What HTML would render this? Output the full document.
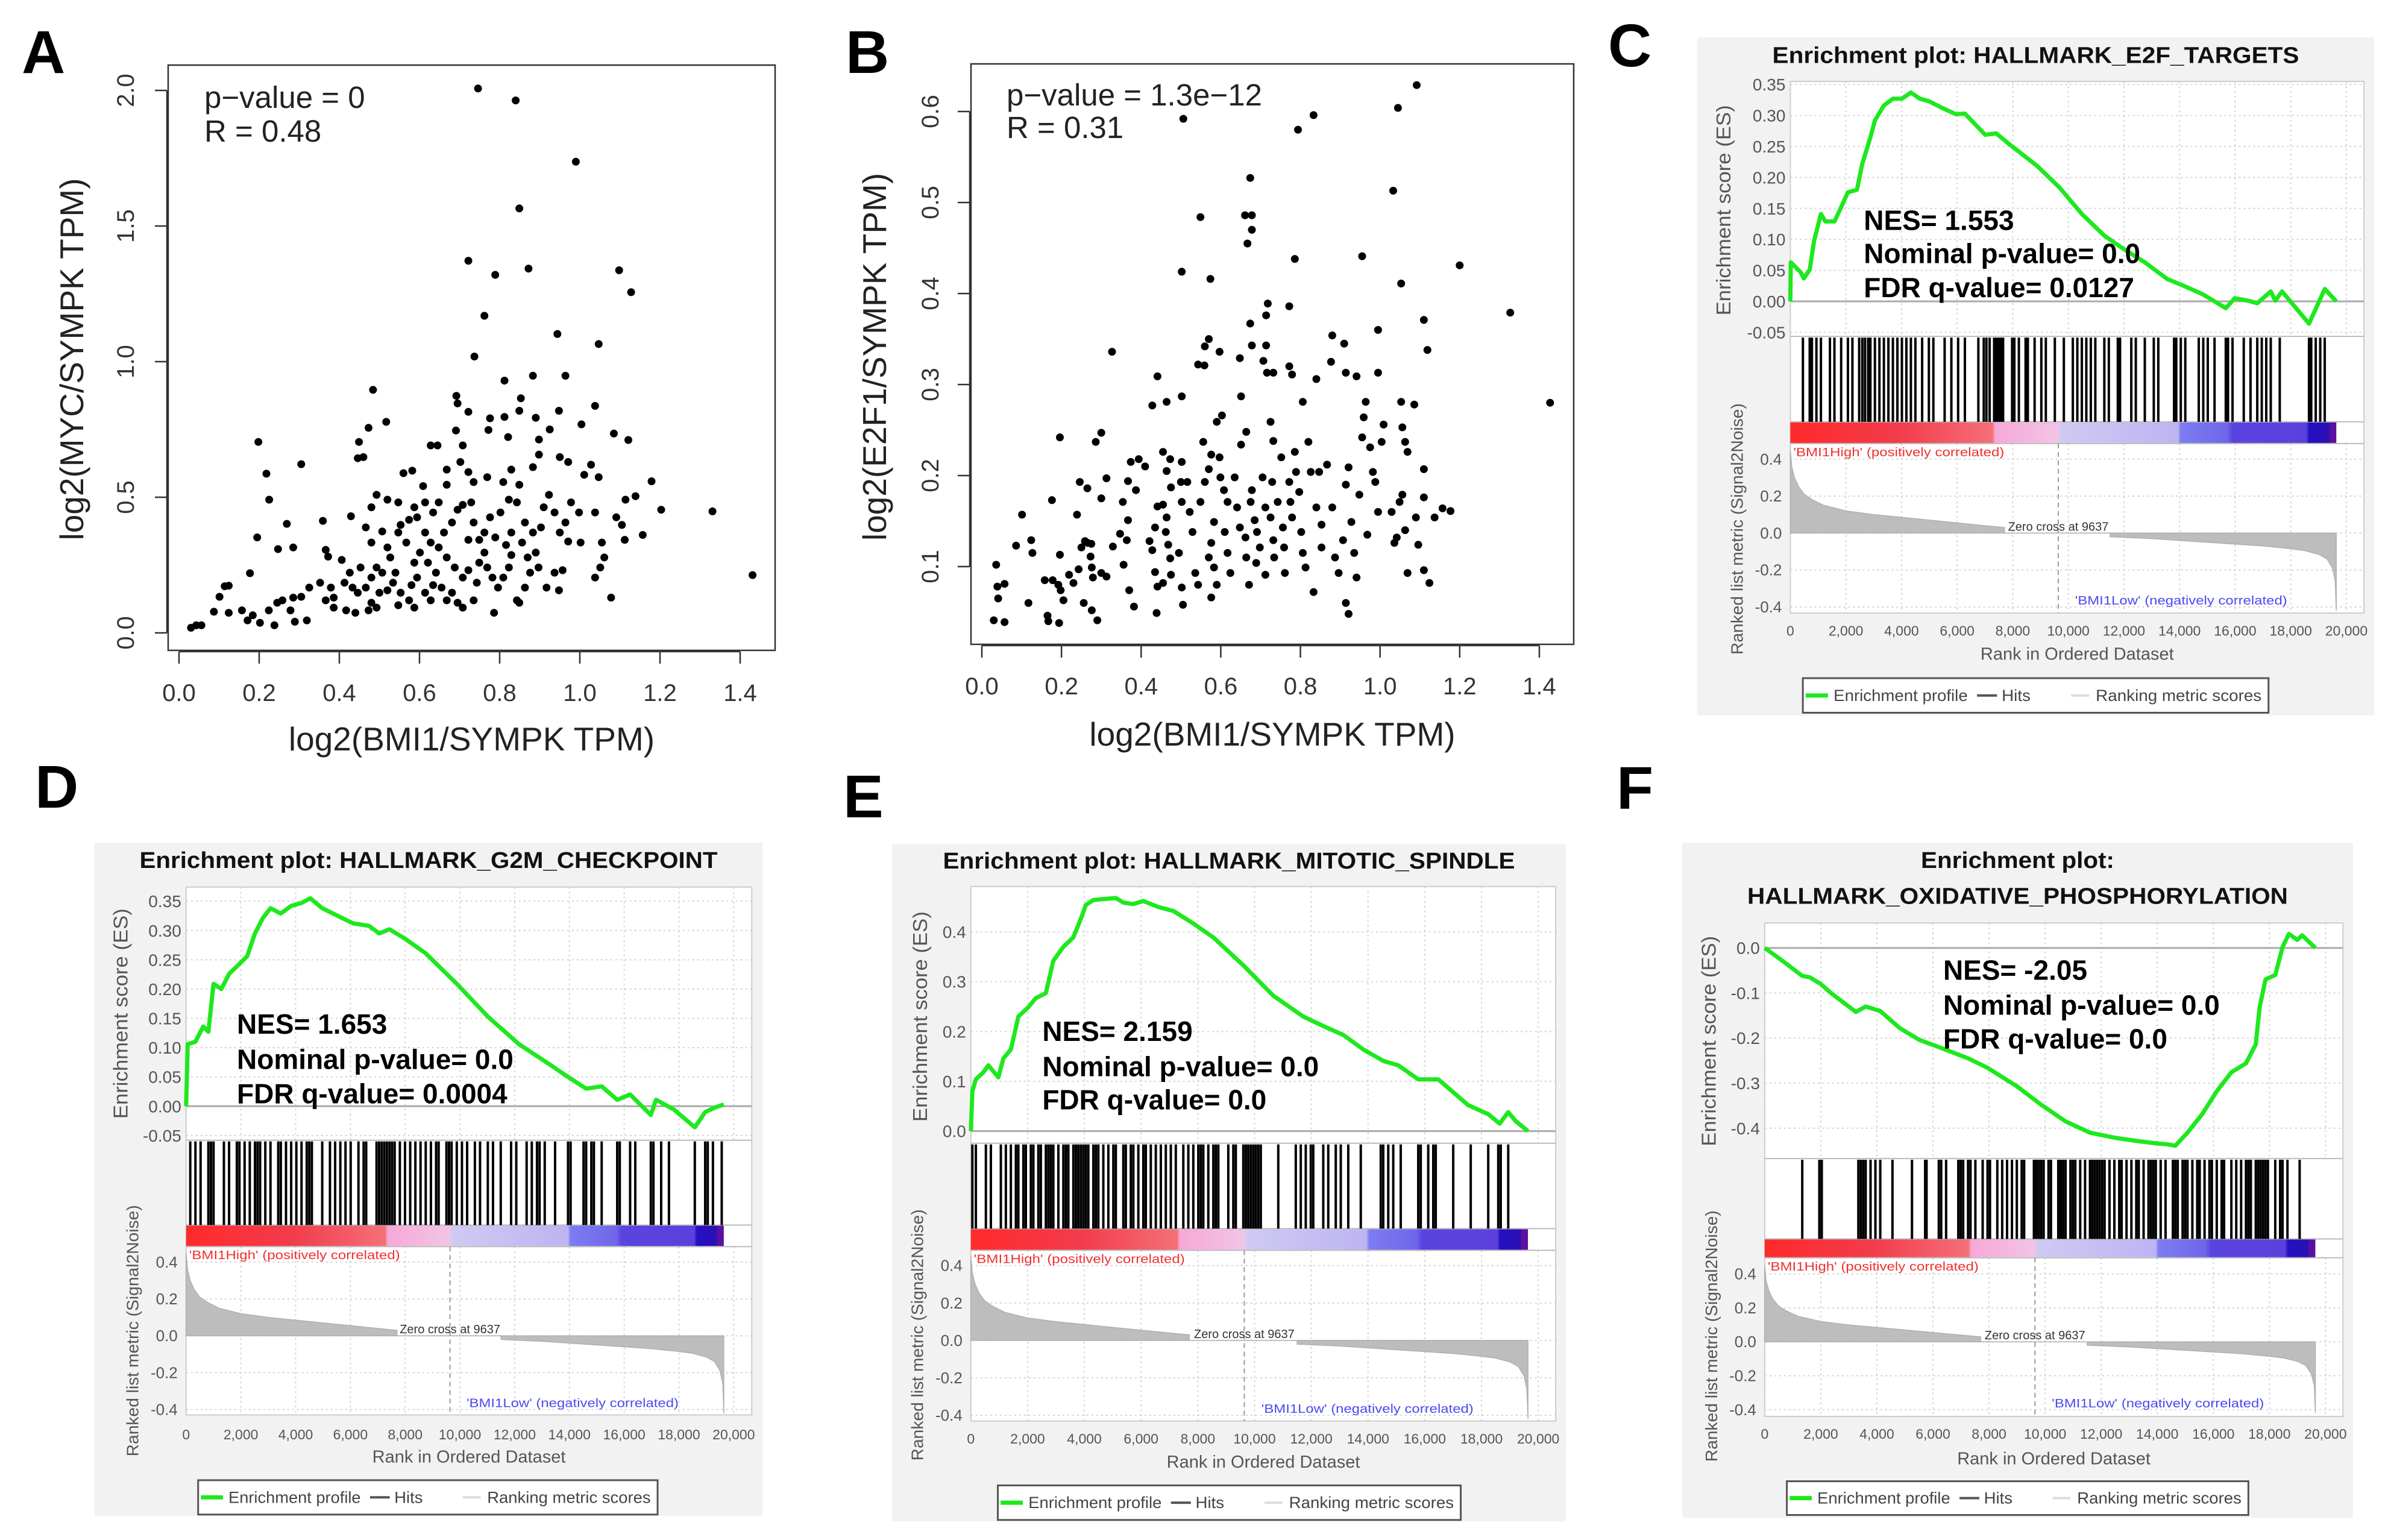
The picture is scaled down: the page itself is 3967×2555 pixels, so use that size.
<!DOCTYPE html>
<html><head><meta charset="utf-8"><style>
html,body{margin:0;padding:0;background:#fff;}
svg{display:block;font-family:"Liberation Sans",Arial,sans-serif;}
</style></head><body>
<svg id="fig" xmlns="http://www.w3.org/2000/svg" width="3967" height="2555" viewBox="0 0 3967 2555">
<rect x="0" y="0" width="3967" height="2555" fill="#fff"/>
</svg>
<script>
// ---------- Scatter A data ----------
const aX=[0.746,0.840,0.99,0.849,0.722,0.789,0.872,1.098,1.128,0.762,0.944,1.047,0.737,0.812,0.883,0.964,0.484,0.517,0.473,0.198,0.305,0.218,0.225,0.269,0.195,1.431,1.331,1.203,1.179,1.139,1.157,1.078,1.085,1.121,1.038,1.004,0.853,0.692,0.695,0.722,0.776,0.812,0.849,0.890,0.948,0.925,0.898,0.772,0.691,0.628,0.645,0.708,0.821,0.449,0.446,0.460,0.560,0.582,0.668,0.609,0.429,0.359,0.366,0.372,0.406,0.285,0.247,0.177,0.114,0.124,0.101,0.087,0.124,0.030,0.043,0.056,0.157,0.171,0.184,0.202,0.238,0.224,0.245,0.258,0.285,0.278,0.289,0.319,0.325,0.305,0.352,0.379,0.366,0.386,0.417,0.44,0.446,0.466,0.48,0.493,0.493,0.52,0.534,0.54,0.553,0.574,0.58,0.594,0.587,0.601,0.567,0.547,0.553,0.574,0.594,0.614,0.628,0.621,0.641,0.655,0.628,0.668,0.695,0.708,0.735,0.743,0.708,0.688,0.668,0.648,0.661,0.681,0.695,0.708,0.729,0.735,0.722,0.749,0.762,0.769,0.782,0.796,0.809,0.823,0.829,0.816,0.789,0.776,0.802,0.823,0.843,0.849,0.863,0.856,0.870,0.876,0.863,0.843,0.849,0.786,0.890,0.903,0.910,0.923,0.937,0.950,0.937,0.917,0.948,0.957,0.971,0.964,0.978,0.998,1.002,1.011,1.028,1.047,1.038,1.055,1.061,1.051,1.038,1.091,1.105,1.112,1.114,0.971,0.950,0.898,0.883,0.829,0.809,0.769,0.735,0.722,0.702,0.668,0.648,0.634,0.614,0.587,0.547,0.520,0.493,0.480,0.466,0.480,0.507,0.520,0.527,0.507,0.480,0.453,0.426,0.433,0.413,0.386,0.473,0.500,0.547,0.587,0.614,0.634,0.681,0.722,0.749,0.762,0.829,0.883,0.897];
const aY=[2.007,1.963,1.737,1.565,1.372,1.32,1.343,1.337,1.256,1.169,1.102,1.065,1.019,0.930,0.948,0.948,0.896,0.778,0.756,0.704,0.622,0.587,0.491,0.402,0.352,0.213,0.448,0.454,0.559,0.504,0.361,0.130,0.735,0.711,0.837,0.769,0.865,0.874,0.846,0.815,0.791,0.796,0.819,0.793,0.819,0.750,0.713,0.748,0.746,0.691,0.691,0.691,0.722,0.704,0.644,0.648,0.589,0.598,0.602,0.541,0.430,0.413,0.306,0.281,0.269,0.315,0.309,0.220,0.172,0.174,0.133,0.078,0.074,0.019,0.028,0.028,0.083,0.046,0.065,0.037,0.028,0.083,0.111,0.120,0.130,0.083,0.041,0.046,0.167,0.133,0.185,0.167,0.120,0.093,0.083,0.074,0.148,0.167,0.111,0.093,0.241,0.157,0.185,0.222,0.148,0.120,0.176,0.204,0.259,0.296,0.333,0.370,0.398,0.417,0.426,0.370,0.333,0.259,0.222,0.167,0.120,0.120,0.111,0.093,0.120,0.185,0.204,0.241,0.278,0.315,0.370,0.407,0.454,0.472,0.481,0.407,0.343,0.343,0.296,0.241,0.204,0.167,0.204,0.241,0.287,0.324,0.352,0.426,0.444,0.491,0.481,0.546,0.407,0.333,0.278,0.222,0.167,0.120,0.111,0.074,0.296,0.389,0.463,0.509,0.444,0.370,0.222,0.167,0.157,0.231,0.337,0.407,0.481,0.444,0.333,0.583,0.620,0.574,0.444,0.333,0.278,0.241,0.204,0.426,0.398,0.343,0.491,0.630,0.648,0.657,0.611,0.602,0.556,0.574,0.556,0.593,0.630,0.546,0.481,0.444,0.481,0.463,0.481,0.491,0.509,0.463,0.389,0.333,0.374,0.315,0.278,0.222,0.204,0.241,0.222,0.167,0.185,0.130,0.083,0.148,0.102,0.093,0.148,0.176,0.148,0.231,0.259,0.370,0.370,0.370,0.241];
// ---------- Scatter B data ----------
const bX=[1.092,1.045,0.833,0.506,0.794,1.033,0.674,0.661,0.678,0.678,0.667,0.549,0.502,0.574,0.786,0.955,1.200,1.053,1.327,1.427,0.772,0.718,0.714,0.674,1.110,1.119,0.995,0.327,0.880,0.910,0.570,0.560,0.678,0.714,0.597,0.543,0.559,0.648,0.707,0.716,0.732,0.772,0.779,0.840,0.877,0.914,0.941,0.995,0.441,0.502,0.428,0.464,0.286,0.300,0.196,0.313,0.300,0.246,0.265,0.176,0.101,0.239,0.086,0.124,0.127,0.036,0.039,0.057,0.041,0.030,0.057,0.117,0.158,0.165,0.167,0.178,0.192,0.198,0.196,0.194,0.205,0.219,0.230,0.243,0.250,0.259,0.266,0.275,0.256,0.276,0.290,0.273,0.276,0.279,0.300,0.313,0.329,0.347,0.354,0.367,0.374,0.387,0.394,0.410,0.367,0.364,0.356,0.370,0.382,0.421,0.435,0.428,0.435,0.441,0.439,0.441,0.455,0.464,0.462,0.468,0.473,0.475,0.455,0.455,0.473,0.464,0.475,0.502,0.500,0.502,0.516,0.495,0.502,0.505,0.522,0.529,0.536,0.543,0.549,0.560,0.556,0.576,0.570,0.583,0.576,0.570,0.583,0.576,0.590,0.597,0.599,0.608,0.590,0.603,0.617,0.610,0.617,0.624,0.635,0.641,0.648,0.651,0.664,0.651,0.662,0.664,0.671,0.675,0.678,0.685,0.691,0.689,0.698,0.705,0.712,0.712,0.725,0.732,0.734,0.725,0.732,0.729,0.743,0.752,0.756,0.759,0.761,0.772,0.775,0.779,0.786,0.789,0.797,0.802,0.806,0.813,0.806,0.820,0.826,0.833,0.840,0.847,0.853,0.853,0.867,0.880,0.887,0.896,0.907,0.914,0.921,0.914,0.921,0.928,0.935,0.941,0.948,0.955,0.959,0.964,0.968,0.975,0.982,0.988,1.004,1.009,0.995,1.029,1.036,1.042,1.049,1.056,1.053,1.056,1.063,1.069,1.063,1.069,1.090,1.096,1.086,1.110,1.110,1.110,1.124,1.137,1.157,1.177];
const bY=[0.629,0.604,0.596,0.592,0.580,0.513,0.527,0.486,0.486,0.470,0.455,0.484,0.424,0.416,0.438,0.441,0.431,0.411,0.379,0.280,0.386,0.389,0.376,0.367,0.371,0.338,0.360,0.336,0.354,0.345,0.350,0.342,0.343,0.343,0.336,0.322,0.321,0.329,0.326,0.313,0.313,0.320,0.311,0.306,0.325,0.313,0.309,0.313,0.309,0.287,0.277,0.281,0.237,0.247,0.242,0.197,0.175,0.193,0.186,0.173,0.157,0.157,0.123,0.129,0.115,0.102,0.078,0.081,0.065,0.041,0.039,0.060,0.085,0.046,0.040,0.085,0.080,0.074,0.113,0.038,0.063,0.091,0.082,0.097,0.121,0.128,0.126,0.125,0.060,0.052,0.041,0.111,0.099,0.088,0.093,0.089,0.122,0.136,0.171,0.194,0.215,0.184,0.218,0.210,0.151,0.129,0.102,0.074,0.056,0.128,0.143,0.118,0.094,0.078,0.049,0.166,0.168,0.154,0.138,0.124,0.109,0.091,0.082,0.226,0.218,0.205,0.187,0.215,0.193,0.171,0.193,0.115,0.077,0.058,0.160,0.138,0.093,0.080,0.171,0.193,0.237,0.223,0.207,0.149,0.126,0.110,0.099,0.066,0.080,0.220,0.198,0.184,0.259,0.266,0.171,0.138,0.115,0.093,0.198,0.165,0.143,0.234,0.248,0.287,0.132,0.110,0.080,0.171,0.184,0.151,0.138,0.104,0.121,0.198,0.165,0.091,0.154,0.129,0.110,0.259,0.238,0.193,0.171,0.220,0.143,0.121,0.093,0.193,0.171,0.154,0.226,0.204,0.182,0.138,0.115,0.099,0.281,0.237,0.204,0.072,0.165,0.204,0.146,0.121,0.212,0.165,0.110,0.093,0.129,0.060,0.048,0.190,0.209,0.149,0.115,0.088,0.179,0.242,0.264,0.281,0.135,0.231,0.204,0.193,0.237,0.256,0.160,0.160,0.126,0.132,0.171,0.179,0.281,0.253,0.237,0.226,0.140,0.093,0.154,0.124,0.278,0.207,0.176,0.096,0.082,0.154,0.164,0.161];
const scatterXTicks=[0,0.2,0.4,0.6,0.8,1.0,1.2,1.4];
const scatterXTickLabels=['0.0','0.2','0.4','0.6','0.8','1.0','1.2','1.4'];
const aYTicks=[0,0.5,1.0,1.5,2.0];
const aYTickLabels=['0.0','0.5','1.0','1.5','2.0'];
const bYTicks=[0.1,0.2,0.3,0.4,0.5,0.6];
const bYTickLabels=['0.1','0.2','0.3','0.4','0.5','0.6'];

// ---------- GSEA data ----------
const rankTicks=[0,2000,4000,6000,8000,10000,12000,14000,16000,18000,20000];
const rankTickLabels=['0','2,000','4,000','6,000','8,000','10,000','12,000','14,000','16,000','18,000','20,000'];
const metricTicks=[0.4,0.2,0,-0.2,-0.4];
const metricTickLabels=['0.4','0.2','0.0','-0.2','-0.4'];
const metricRanks=[0,50,150,300,500,800,1200,2000,3000,4000,5000,6000,7000,7700,7701,11500,11501,13000,14000,15000,16000,17000,18000,18500,19000,19300,19500,19600,19637];
const metricVals=[0.45,0.36,0.30,0.25,0.21,0.18,0.15,0.12,0.10,0.085,0.07,0.055,0.04,0.03,0,0,-0.02,-0.03,-0.04,-0.05,-0.06,-0.07,-0.085,-0.095,-0.115,-0.14,-0.19,-0.26,-0.42];
const esTicksCD=[0.35,0.30,0.25,0.20,0.15,0.10,0.05,0.00,-0.05];
const esTickLabelsCD=['0.35','0.30','0.25','0.20','0.15','0.10','0.05','0.00','-0.05'];
const esTicksE=[0.4,0.3,0.2,0.1,0.0];
const esTickLabelsE=['0.4','0.3','0.2','0.1','0.0'];
const esTicksF=[0.0,-0.1,-0.2,-0.3,-0.4];
const esTickLabelsF=['0.0','-0.1','-0.2','-0.3','-0.4'];

const cEsRanks=[0,16,372,485,696,857,1100,1262,1586,1828,2071,2395,2589,2880,3042,3365,3689,4013,4336,4660,4983,5469,5954,6278,6601,7006,7410,7896,8867,9676,10485,11294,11941,12750,13559,14207,14854,15662,15986,16471,16795,17281,17443,17685,18656,19222,19637];
const cEsVals=[0,0.063,0.047,0.037,0.051,0.098,0.141,0.129,0.129,0.152,0.176,0.18,0.222,0.265,0.292,0.316,0.327,0.327,0.337,0.327,0.323,0.312,0.302,0.303,0.288,0.269,0.271,0.253,0.219,0.184,0.141,0.106,0.086,0.063,0.036,0.024,0.011,-0.011,0.005,0.001,-0.003,0.016,0.001,0.016,-0.036,0.020,0];
const cHits=[453,696,777,938,1100,1424,1586,1828,2071,2233,2476,2589,2686,2799,2880,3042,3204,3365,3527,3689,3851,4013,4174,4336,4498,4741,4983,5145,5550,5792,6035,6278,6763,6957,7054,7168,7330,7410,7491,7572,7653,7977,8058,8220,8462,8543,8786,9028,9190,9514,9838,10161,10323,10485,10646,10808,10970,11294,11456,11779,11860,12264,12426,12750,13073,13235,13802,13882,14044,14206,14691,14853,15015,15258,15662,15743,15905,16309,16552,16795,16957,17118,17280,17604,18656,18736,18898,19060,19222];

const dEsRanks=[0,57,340,624,813,1002,1285,1569,1947,2230,2514,2797,3081,3459,3837,4215,4536,4971,5538,6105,6672,7050,7428,7995,8751,9885,11019,12153,13287,14043,14610,15177,15744,16216,16972,17161,17823,18579,18957,19335,19637];
const dEsVals=[0,0.106,0.110,0.136,0.127,0.209,0.2,0.226,0.243,0.256,0.295,0.321,0.338,0.329,0.342,0.347,0.355,0.338,0.325,0.312,0.308,0.295,0.302,0.286,0.261,0.209,0.153,0.106,0.071,0.047,0.030,0.034,0.011,0.020,-0.015,0.011,-0.006,-0.036,-0.010,-0.002,0.003];
const dHits=[151,340,529,813,907,1002,1380,1569,1852,1947,2136,2325,2514,2608,2703,2892,3081,3364,3459,3648,3837,4026,4215,4404,4498,4593,4971,5254,5443,5632,5821,6010,6294,6483,6577,6955,7050,7144,7239,7333,7428,7522,7617,7806,7995,8184,8373,8562,8751,8940,9129,9223,9507,9601,9696,9885,10074,10263,10546,10735,11019,11208,11491,11869,12058,12436,12625,12814,12909,13098,13476,13948,14043,14515,14610,14799,14893,15177,15744,15838,16216,16405,16972,17067,17350,17634,18579,18957,19051,19240,19562];

const eEsRanks=[0,53,176,440,617,969,1146,1410,1674,2026,2291,2643,2907,3260,3612,3876,4052,4317,4669,5110,5374,5727,6079,6607,7136,7841,8546,9603,10660,11717,12422,13127,13832,14537,15065,15770,16475,17532,18237,18642,18941,19206,19637];
const eEsVals=[0,0.08,0.104,0.118,0.132,0.108,0.146,0.164,0.23,0.249,0.267,0.277,0.342,0.37,0.389,0.426,0.454,0.464,0.466,0.468,0.459,0.456,0.462,0.45,0.442,0.417,0.389,0.333,0.272,0.23,0.211,0.193,0.164,0.141,0.132,0.104,0.104,0.052,0.034,0.015,0.038,0.02,0];
const eHits=[53,176,529,705,1057,1233,1410,1586,1674,1850,1938,2114,2203,2379,2467,2643,2731,2819,2907,3084,3260,3348,3436,3612,3700,3788,3876,3965,4053,4141,4317,4405,4493,4669,4846,5022,5110,5374,5462,5638,5727,5903,6079,6167,6343,6519,6696,6872,7048,7224,7489,7665,7841,8017,8105,8193,8370,8546,8634,8722,9074,9251,9339,9603,9691,9779,9867,9955,10043,10132,10220,10836,11453,11629,11805,11982,12070,12422,12598,12863,13039,13303,13744,14448,14537,14713,14889,15153,15770,15858,16122,16299,16387,17003,17620,18237,18590,18678,18942];

const fEsRanks=[0,643,1339,1600,2000,2382,3252,3600,4121,4817,5513,6208,7252,7947,8991,9860,10730,11599,12469,13338,13860,14381,14642,15077,15599,16120,16642,17163,17511,17650,17859,18207,18468,18694,18990,19164,19637];
const fEsVals=[0,-0.029,-0.062,-0.065,-0.08,-0.101,-0.142,-0.13,-0.14,-0.178,-0.204,-0.22,-0.245,-0.266,-0.307,-0.348,-0.385,-0.41,-0.421,-0.429,-0.433,-0.436,-0.439,-0.41,-0.369,-0.318,-0.276,-0.256,-0.214,-0.132,-0.07,-0.06,0.002,0.031,0.018,0.028,0];
const fHits=[1339,1948,2035,3339,3426,3513,3600,3774,3948,4121,4556,5252,5721,5773,6208,6295,6469,6904,6991,7078,7252,7339,7513,7773,7947,8034,8295,8469,8643,8817,8991,9165,9252,9600,9686,9773,9860,9947,10121,10208,10469,10556,10643,10730,10903,10990,11077,11251,11425,11599,11686,11773,11860,11947,12034,12121,12295,12469,12643,12729,12903,13077,13251,13338,13512,13686,13773,13860,13947,14121,14295,14555,14642,14729,14903,14990,15077,15251,15425,15512,15686,15860,15947,16121,16295,16382,16642,16816,16990,17163,17250,17337,17511,17598,17685,17772,17859,17946,18207,18381,18468,18642,19077];

const NS='http://www.w3.org/2000/svg';
const svg=document.getElementById('fig');
function mk(tag,attrs,parent){const e=document.createElementNS(NS,tag);for(const k in attrs)e.setAttribute(k,attrs[k]);(parent||svg).appendChild(e);return e;}
function tx(str,attrs,parent){const e=mk('text',attrs,parent);e.textContent=str;return e;}

// ---------- panel letters ----------
const letters=[['A',36,121],['B',1403,121],['C',2668,110],['D',58,1340],['E',1399,1356],['F',2682,1342]];
letters.forEach(l=>{
  const t=tx(l[0],{x:l[1],y:l[2],'font-size':100,'font-weight':'bold',fill:'#000'});
  
  
});

// ---------- scatter ----------
function scatter(c){
  const g=mk('g',{});
  
  
  const sx=v=>c.x0px+(v-0)*c.xPerUnit;
  const sy=v=>c.yRefPx-(v-c.yRef)*c.yPerUnit;
  const box=mk('rect',{x:c.box[0],y:c.box[1],width:c.box[2]-c.box[0],height:c.box[3]-c.box[1],fill:'none',stroke:'#333','stroke-width':2.5},g);
  
  
  const xa=mk('g',{},g);
  
  
  const by=c.box[3]+2;
  mk('line',{x1:sx(scatterXTicks[0]),x2:sx(scatterXTicks[scatterXTicks.length-1]),y1:by,y2:by,stroke:'#333','stroke-width':2.5},xa);
  scatterXTicks.forEach((v,i)=>{
    mk('line',{x1:sx(v),x2:sx(v),y1:by,y2:by+20,stroke:'#333','stroke-width':2.5},xa);
    const t=tx(scatterXTickLabels[i],{x:sx(v),y:c.xLabY,'text-anchor':'middle','font-size':40,fill:'#333'},xa);
    
    
  });
  const ya=mk('g',{},g);
  
  
  const bx=c.box[0]-2;
  mk('line',{x1:bx,x2:bx,y1:sy(c.yTicks[0]),y2:sy(c.yTicks[c.yTicks.length-1]),stroke:'#333','stroke-width':2.5},ya);
  c.yTicks.forEach((v,i)=>{
    mk('line',{x1:bx,x2:bx-20,y1:sy(v),y2:sy(v),stroke:'#333','stroke-width':2.5},ya);
    const t=tx(c.yTickLabels[i],{transform:`translate(${c.yLabX},${sy(v)}) rotate(-90)`,'text-anchor':'middle','font-size':40,fill:'#333'},ya);
    
    
  });
  const xt=tx('log2(BMI1/SYMPK TPM)',{x:(c.box[0]+c.box[2])/2,y:c.xTitleY,'text-anchor':'middle','font-size':55,fill:'#222'},g);
  
  
  const yt=tx(c.yTitle,{transform:`translate(${c.yTitleX},${c.yTitleCY}) rotate(-90)`,'text-anchor':'middle','font-size':55,fill:'#222'},g);
  
  
  const p=tx(c.pText,{x:c.statX,y:c.statY1,'font-size':51,fill:'#222'},g);
  
  
  const r=tx(c.rText,{x:c.statX,y:c.statY2,'font-size':51,fill:'#222'},g);
  
  
  const pts=mk('g',{fill:'#000'},g);
  
  
  const n=Math.min(c.xs.length,c.ys.length);
  for(let i=0;i<n;i++){
    const d=mk('circle',{cx:sx(c.xs[i]).toFixed(1),cy:sy(c.ys[i]).toFixed(1),r:6.5},pts);
    
    
  }
}
scatter({name:'scatter-a-myc',box:[279,108,1286,1079],x0px:297,xPerUnit:665,yRef:0,yRefPx:1050,yPerUnit:450,
  yTicks:aYTicks,yTickLabels:aYTickLabels,xLabY:1163,yLabX:222,xTitleY:1245,yTitle:'log2(MYC/SYMPK TPM)',yTitleX:138,yTitleCY:596,
  pText:'p\u2212value = 0',rText:'R = 0.48',statX:339,statY1:179,statY2:235,xs:aX,ys:aY});
scatter({name:'scatter-b-e2f1',box:[1611,106,2611,1069],x0px:1629,xPerUnit:660.7,yRef:0.1,yRefPx:940,yPerUnit:1510,
  yTicks:bYTicks,yTickLabels:bYTickLabels,xLabY:1152,yLabX:1557,xTitleY:1237,yTitle:'log2(E2F1/SYMPK TPM)',yTitleX:1470,yTitleCY:592,
  pText:'p\u2212value = 1.3e\u221212',rText:'R = 0.31',statX:1670,statY1:175,statY2:229,xs:bX,ys:bY});

// ---------- GSEA ----------
function gsea(c){
  const g=mk('g',{});
  
  
  const bg=mk('rect',{x:c.x0,y:c.y0,width:c.w,height:c.h,fill:'#f2f2f2'},g);
  
  
  const xr=r=>c.plotL+r/20000*(c.x20k-c.plotL);
  const esY=v=>c.esY1+(v-c.esV1)*(c.esY2-c.esY1)/(c.esV2-c.esV1);
  const rkY=v=>c.r4Y+(v-0.4)*(c.rm4Y-c.r4Y)/(-0.8);
  const endR=19637;
  c.titles.forEach((t,i)=>{
    const e=tx(t,{x:c.x0+c.w/2,y:c.titleY[i],'text-anchor':'middle','font-size':38,'font-weight':'bold',fill:'#111',textLength:c.titleW[i],lengthAdjust:'spacingAndGlyphs'},g);
    
    
  });
  const pa=mk('rect',{x:c.plotL,y:c.esTop,width:c.plotR-c.plotL,height:c.rankBot-c.esTop,fill:'#fff',stroke:'#ccc','stroke-width':2},g);
  
  
  const grid=mk('g',{stroke:'#d4d4d4','stroke-width':2,'stroke-dasharray':'3,5'},g);
  
  
  rankTicks.forEach(r=>{
    mk('line',{x1:xr(r),x2:xr(r),y1:c.esTop,y2:c.esBot},grid);
    mk('line',{x1:xr(r),x2:xr(r),y1:c.colBot,y2:c.rankBot},grid);
  });
  c.esTicks.forEach(v=>mk('line',{x1:c.plotL,x2:c.plotR,y1:esY(v),y2:esY(v)},grid));
  metricTicks.forEach(v=>mk('line',{x1:c.plotL,x2:c.plotR,y1:rkY(v),y2:rkY(v)},grid));
  [c.esBot,c.hitsBot,c.colBot].forEach(y=>{
    const s=mk('line',{x1:c.plotL,x2:c.plotR,y1:y,y2:y,stroke:'#bbb','stroke-width':2},g);
    
    
  });
  const z=mk('line',{x1:c.plotL,x2:c.plotR,y1:esY(0),y2:esY(0),stroke:'#aaa','stroke-width':3},g);
  
  
  c.esTicks.forEach((v,i)=>{
    const t=tx(c.esTickLabels[i],{x:c.plotL-8,y:esY(v)+10,'text-anchor':'end','font-size':28,fill:'#555'},g);
    
    
  });
  metricTicks.forEach((v,i)=>{
    const t=tx(metricTickLabels[i],{x:c.plotL-14,y:rkY(v)+9,'text-anchor':'end','font-size':26,fill:'#555'},g);
    
    
  });
  rankTicks.forEach((r,i)=>{
    const t=tx(rankTickLabels[i],{x:xr(r),y:c.tickY,'text-anchor':'middle','font-size':23,fill:'#555'},g);
    
    
  });
  const xt=tx('Rank in Ordered Dataset',{x:(c.plotL+c.plotR)/2,y:c.xTitleY,'text-anchor':'middle','font-size':29,fill:'#555'},g);
  
  
  const yt1=tx('Enrichment score (ES)',{transform:`translate(${c.esLabX},${c.esLabCY}) rotate(-90)`,'text-anchor':'middle','font-size':33,fill:'#555',textLength:349,lengthAdjust:'spacingAndGlyphs'},g);
  
  
  const yt2=tx('Ranked list metric (Signal2Noise)',{transform:`translate(${c.rkLabX},${c.rkLabCY}) rotate(-90)`,'text-anchor':'middle','font-size':28,fill:'#555',textLength:417,lengthAdjust:'spacingAndGlyphs'},g);
  
  
  const hg=mk('g',{stroke:'#000','stroke-width':4},g);
  
  
  c.hits.forEach(r=>{
    const l=mk('line',{x1:xr(r),x2:xr(r),y1:c.esBot+2,y2:c.hitsBot},hg);
    
    
  });
  const gid='grad'+c.name;
  const defs=mk('defs',{},g);
  const lg=mk('linearGradient',{id:gid,x1:0,x2:1,y1:0,y2:0},defs);
  [[0,'#ff2a2a'],[0.2,'#f23c4c'],[0.37,'#f47078'],[0.375,'#f7a8d6'],[0.49,'#f1c4e6'],[0.495,'#cfcaf2'],[0.71,'#bdb4f2'],[0.715,'#7d7cf2'],[0.8,'#6f66ea'],[0.81,'#5a44e0'],[0.945,'#5c40dc'],[0.95,'#2410c4'],[0.985,'#2a10b4'],[0.99,'#5a10a0'],[1,'#5a10a0']].forEach(s=>mk('stop',{offset:s[0],'stop-color':s[1]},lg));
  const cb=mk('rect',{x:c.plotL,y:c.hitsBot+1,width:xr(endR)-c.plotL,height:c.colBot-c.hitsBot-2,fill:`url(#${gid})`},g);
  
  
  let pts=`${xr(0)},${rkY(0)} `;
  for(let i=0;i<metricRanks.length;i++)pts+=`${xr(metricRanks[i]).toFixed(1)},${rkY(metricVals[i]).toFixed(1)} `;
  pts+=`${xr(endR)},${rkY(0)}`;
  const ma=mk('polygon',{points:pts,fill:'#bdbdbd',stroke:'#b0b0b0','stroke-width':1.5},g);
  
  
  const dl=mk('line',{x1:xr(9637),x2:xr(9637),y1:c.colBot,y2:c.rankBot,stroke:'#999','stroke-width':2,'stroke-dasharray':'8,6'},g);
  
  
  const zc=tx('Zero cross at 9637',{x:xr(9637),y:rkY(0)-4,'text-anchor':'middle','font-size':20,fill:'#333'},g);
  
  
  const hi=tx("'BMI1High' (positively correlated)",{x:c.plotL+5,y:c.colBot+21,'font-size':20,fill:'#f03030',textLength:350,lengthAdjust:'spacingAndGlyphs'},g);
  
  
  const lo=tx("'BMI1Low' (negatively correlated)",{x:xr(10240),y:c.rm4Y-4,'font-size':20,fill:'#4a4af0',textLength:352,lengthAdjust:'spacingAndGlyphs'},g);
  
  
  let ep='';
  for(let i=0;i<c.esRanks.length;i++)ep+=`${xr(c.esRanks[i]).toFixed(1)},${esY(c.esVals[i]).toFixed(1)} `;
  const es=mk('polyline',{points:ep,fill:'none',stroke:'#1ee81e','stroke-width':7,'stroke-linejoin':'round'},g);
  
  
  const nesNames=['nes-value','nominal-p-value','fdr-q-value'];
  c.nesLines.forEach((s,i)=>{
    const t=tx(s,{x:c.nesX,y:c.nesY[i],'font-size':46,'font-weight':'bold',fill:'#000'},g);
    
    
  });
  const L=c.leg, lw=L.r-L.l, cy=(L.t+L.b)/2;
  const lgd=mk('g',{},g);
  
  
  mk('rect',{x:L.l,y:L.t,width:lw,height:L.b-L.t,fill:'#fff',stroke:'#555','stroke-width':3},lgd);
  mk('line',{x1:L.l+lw*0.006,x2:L.l+lw*0.054,y1:cy,y2:cy,stroke:'#1ee81e','stroke-width':7},lgd);
  const l1=tx('Enrichment profile',{x:L.l+lw*0.066,y:cy+9,'font-size':27,fill:'#444',textLength:lw*0.288,lengthAdjust:'spacingAndGlyphs'},lgd);
  
  
  mk('line',{x1:L.l+lw*0.374,x2:L.l+lw*0.417,y1:cy,y2:cy,stroke:'#555','stroke-width':4},lgd);
  const l2=tx('Hits',{x:L.l+lw*0.427,y:cy+9,'font-size':27,fill:'#444',textLength:lw*0.062,lengthAdjust:'spacingAndGlyphs'},lgd);
  
  
  mk('line',{x1:L.l+lw*0.576,x2:L.l+lw*0.615,y1:cy,y2:cy,stroke:'#ddd','stroke-width':4},lgd);
  const l3=tx('Ranking metric scores',{x:L.l+lw*0.629,y:cy+9,'font-size':27,fill:'#444',textLength:lw*0.356,lengthAdjust:'spacingAndGlyphs'},lgd);
  
  
}

(function(){
  const x0=2816,y0=62,w=1123,h=1125;
  const X=f=>x0+f*w, Y=f=>y0+f*h;
  gsea({name:'gsea-c-e2f-targets',x0,y0,w,h,titles:['Enrichment plot: HALLMARK_E2F_TARGETS'],titleY:[Y(0.026)+13],titleW:[874],
    plotL:X(0.1375),plotR:X(0.985),x20k:X(0.959),esTop:Y(0.065),esBot:Y(0.441),hitsBot:Y(0.567),colBot:Y(0.599),rankBot:Y(0.849),
    esV1:0.35,esY1:Y(0.0695),esV2:-0.05,esY2:Y(0.435),r4Y:Y(0.622),rm4Y:Y(0.840),esTicks:esTicksCD,esTickLabels:esTickLabelsCD,
    tickY:Y(0.875)+8,xTitleY:Y(0.909)+10,leg:{l:X(0.156),r:X(0.844),t:Y(0.945),b:Y(0.996)},
    esLabX:X(0.04)+10,esLabCY:Y(0.255),rkLabX:X(0.06)+8,rkLabCY:Y(0.725),
    nesX:X(0.246),nesY:[Y(0.284),Y(0.333),Y(0.383)],nesLines:['NES= 1.553','Nominal p-value= 0.0','FDR q-value= 0.0127'],
    esRanks:cEsRanks,esVals:cEsVals,hits:cHits});
})();
(function(){
  const x0=157,y0=1398,w=1108,h=1117;
  const X=f=>x0+f*w, Y=f=>y0+f*h;
  gsea({name:'gsea-d-g2m-checkpoint',x0,y0,w,h,titles:['Enrichment plot: HALLMARK_G2M_CHECKPOINT'],titleY:[Y(0.026)+13],titleW:[959],
    plotL:X(0.137),plotR:X(0.984),x20k:X(0.957),esTop:Y(0.066),esBot:Y(0.442),hitsBot:Y(0.568),colBot:Y(0.600),rankBot:Y(0.85),
    esV1:0.35,esY1:Y(0.087),esV2:-0.05,esY2:Y(0.435),r4Y:Y(0.623),rm4Y:Y(0.842),esTicks:esTicksCD,esTickLabels:esTickLabelsCD,
    tickY:Y(0.879)+8,xTitleY:Y(0.912)+10,leg:{l:X(0.155),r:X(0.843),t:Y(0.947),b:Y(0.998)},
    esLabX:X(0.04)+10,esLabCY:Y(0.254),rkLabX:X(0.058)+8,rkLabCY:Y(0.725),
    nesX:X(0.213),nesY:[Y(0.284),Y(0.336),Y(0.387)],nesLines:['NES= 1.653','Nominal p-value= 0.0','FDR q-value= 0.0004'],
    esRanks:dEsRanks,esVals:dEsVals,hits:dHits});
})();
(function(){
  const x0=1480,y0=1400,w=1118,h=1124;
  const X=f=>x0+f*w, Y=f=>y0+f*h;
  gsea({name:'gsea-e-mitotic-spindle',x0,y0,w,h,titles:['Enrichment plot: HALLMARK_MITOTIC_SPINDLE'],titleY:[Y(0.025)+13],titleW:[949],
    plotL:X(0.117),plotR:X(0.985),x20k:X(0.959),esTop:Y(0.063),esBot:Y(0.442),hitsBot:Y(0.568),colBot:Y(0.600),rankBot:Y(0.852),
    esV1:0.4,esY1:Y(0.130),esV2:0.0,esY2:Y(0.424),r4Y:Y(0.6225),rm4Y:Y(0.8435),esTicks:esTicksE,esTickLabels:esTickLabelsE,
    tickY:Y(0.878)+8,xTitleY:Y(0.912)+10,leg:{l:X(0.157),r:X(0.844),t:Y(0.947),b:Y(0.998)},
    esLabX:X(0.043)+10,esLabCY:Y(0.255),rkLabX:X(0.039)+8,rkLabCY:Y(0.725),
    nesX:X(0.223),nesY:[Y(0.291),Y(0.343),Y(0.392)],nesLines:['NES= 2.159','Nominal p-value= 0.0','FDR q-value= 0.0'],
    esRanks:eEsRanks,esVals:eEsVals,hits:eHits});
})();
(function(){
  const x0=2791,y0=1398,w=1113,h=1120;
  const X=f=>x0+f*w, Y=f=>y0+f*h;
  gsea({name:'gsea-f-oxidative-phosphorylation',x0,y0,w,h,titles:['Enrichment plot:','HALLMARK_OXIDATIVE_PHOSPHORYLATION'],titleY:[Y(0.026)+13,Y(0.079)+13],titleW:[321,897],
    plotL:X(0.123),plotR:X(0.985),x20k:X(0.959),esTop:Y(0.119),esBot:Y(0.468),hitsBot:Y(0.587),colBot:Y(0.615),rankBot:Y(0.850),
    esV1:0.0,esY1:Y(0.156),esV2:-0.4,esY2:Y(0.423),r4Y:Y(0.639),rm4Y:Y(0.840),esTicks:esTicksF,esTickLabels:esTickLabelsF,
    tickY:Y(0.876)+8,xTitleY:Y(0.912)+10,leg:{l:X(0.156),r:X(0.844),t:Y(0.946),b:Y(0.996)},
    esLabX:X(0.041)+10,esLabCY:Y(0.294),rkLabX:X(0.045)+8,rkLabCY:Y(0.731),
    nesX:X(0.389),nesY:[Y(0.203),Y(0.255),Y(0.305)],nesLines:['NES= -2.05','Nominal p-value= 0.0','FDR q-value= 0.0'],
    esRanks:fEsRanks,esVals:fEsVals,hits:fHits});
})();
</script>
</body></html>
